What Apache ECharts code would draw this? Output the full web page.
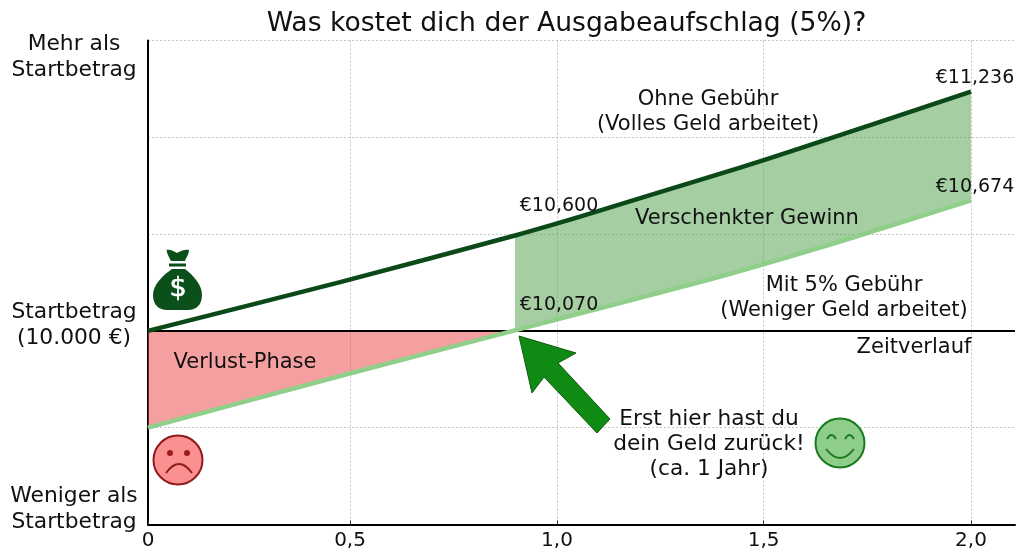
<!DOCTYPE html>
<html>
<head>
<meta charset="utf-8">
<title>Ausgabeaufschlag</title>
<script src="https://cdn.jsdelivr.net/npm/echarts@6/dist/echarts.min.js"></script>
<style>
  html, body { margin: 0; padding: 0; background: #fff; }
  #chart { width: 1024px; height: 559px; }
</style>
</head>
<body>
<div id="chart"></div>
<script>
// values (years, euros)
const ohneGebuehr = [[0, 10000], [0.467, 10252], [0.892, 10493], [1.05, 10590], [1.244, 10717], [1.439, 10843], [1.584, 10943], [2, 11236]]
const mitGebuehr = [[0, 9500], [0.49, 9780], [0.887, 10000], [1.36, 10263], [1.69, 10467], [2, 10674]]
const startLine = [[0, 10000], [2.107, 10000]]
const verlustOben = [[0, 10000], [0.887, 10000]]
const verlustUnten = [[0, 9500], [0.49, 9780], [0.887, 10000]]
const gewinnOben = [[0.892, 10493], [1.05, 10590], [1.244, 10717], [1.439, 10843], [1.584, 10943], [2, 11236]]
const gewinnUnten = [[0.892, 10003], [1.36, 10263], [1.69, 10467], [2, 10674]]
const xTicks = [0, 0.491, 0.994, 1.496, 2]
const xLabels = ['0', '0,5', '1,0', '1,5', '2,0']
const yTicks = [9000, 9500, 10000, 10500, 11000, 11500]
const yLabelValues = [9080, 10031, 11412]
const yLabels = ['Weniger als\nStartbetrag', 'Startbetrag\n(10.000 €)', 'Mehr als\nStartbetrag']

const FONT = 'DejaVu Sans'
const chart = echarts.init(document.getElementById('chart'))

function band(color, opacity, top, bottom) {
  return {
    type: 'custom',
    silent: true,
    z: 1,
    data: [0],
    renderItem(params, api) {
      const pts = top.concat(bottom.slice().reverse()).map(p => api.coord(p))
      return { type: 'polygon', shape: { points: pts }, style: { fill: color, opacity: opacity } }
    }
  }
}

function line(data, color, width, z) {
  return {
    type: 'line',
    data: data,
    symbol: 'none',
    smooth: 0.25,
    silent: true,
    z: z,
    lineStyle: { color: color, width: width, cap: 'butt' }
  }
}

function note(x, y, text, size) {
  return {
    type: 'text',
    x: x,
    y: y,
    z: 20,
    style: {
      text: text,
      fill: '#111',
      font: (size || 21) + 'px "' + FONT + '"',
      align: 'center',
      verticalAlign: 'middle',
      lineHeight: 25
    }
  }
}

function shape(pathData, fill, stroke, width) {
  return {
    type: 'path',
    shape: { pathData: pathData },
    style: { fill: fill, stroke: stroke, lineWidth: width || 0 }
  }
}

function circle(cx, cy, r, fill, stroke, width) {
  return {
    type: 'circle',
    shape: { cx: cx, cy: cy, r: r },
    style: { fill: fill, stroke: stroke, lineWidth: width || 0 }
  }
}

// arrow, money bag and the two faces
function icons() {
  return {
    type: 'group',
    children: [
      shape('M519 336 L576 353 L558 363 L610 419 L597 433 L544 377 L532 393 Z', '#0f8a12', '#0c5c10', 1),
      shape('M166.5 250 C170 249 173 251 177 253 C181 251 185 249 189 250 C189 254 186 258 185 261 L171 261 C169 257 167 254 166.5 250 Z', '#0b4f1a'),
      shape('M169 263.5 L186 263.5 L186 266.5 L169 266.5 Z', '#0b4f1a'),
      shape('M172 269 L185 269 C194 276 202 285 202 295 C202 305 196 310 188 310 L167 310 C159 310 153 305 153 295 C153 285 162 276 172 269 Z', '#0b4f1a'),
      {
        type: 'text', x: 178, y: 289,
        style: { text: '$', fill: '#fff', font: '27px "' + FONT + '"', align: 'center', verticalAlign: 'middle', stroke: '#fff', lineWidth: 0.6 }
      },
      circle(178, 460, 24.5, '#fb9090', '#8f1a1a', 2),
      circle(170, 453, 3, '#a01c1c', null),
      circle(187, 453, 3, '#a01c1c', null),
      shape('M166 473 Q179 455 192 473', 'none', '#8f1a1a', 2),
      circle(840, 443, 24.5, '#8fce8a', '#1b7a1e', 2),
      shape('M827 439 Q831.5 431 836 439', 'none', '#1b7a1e', 2),
      shape('M845 439 Q849.5 431 854 439', 'none', '#1b7a1e', 2),
      shape('M826 449 Q840 467 854 449', 'none', '#1b7a1e', 2)
    ]
  }
}

const option = {
  animation: false,
  backgroundColor: '#fff',
  title: {
    text: 'Was kostet dich der Ausgabeaufschlag (5%)?',
    left: 561.5,
    top: 6,
    textAlign: 'center',
    textStyle: { fontFamily: FONT, fontSize: 26.6, fontWeight: 'normal', color: '#111' }
  },
  grid: { left: 148, top: 40.5, width: 867, height: 484 },
  xAxis: {
    type: 'value',
    min: 0,
    max: 2.107,
    axisLine: { lineStyle: { color: '#000', width: 2 } },
    axisTick: { show: true, inside: true, length: 4, lineStyle: { color: '#333' }, customValues: xTicks },
    axisLabel: {
      color: '#111',
      fontFamily: FONT,
      fontSize: 20,
      margin: 6,
      customValues: xTicks,
      formatter: v => xLabels[xTicks.indexOf(v)]
    },
    splitLine: { show: true, lineStyle: { color: '#c4c4c4', type: [2, 2], width: 1 } }
  },
  yAxis: {
    type: 'value',
    min: 9000,
    max: 11500,
    axisLine: { show: true, onZero: false, lineStyle: { color: '#000', width: 2 } },
    axisTick: { show: false, customValues: yTicks },
    axisLabel: {
      color: '#111',
      fontFamily: FONT,
      fontSize: 21.8,
      lineHeight: 26,
      align: 'center',
      margin: 74,
      customValues: yLabelValues,
      formatter: v => yLabels[yLabelValues.indexOf(v)]
    },
    splitLine: { show: true, lineStyle: { color: '#c4c4c4', type: [2, 2], width: 1 } }
  },
  series: [
    band('#4b9f47', 0.5, gewinnOben, gewinnUnten),
    band('#eb4141', 0.5, verlustOben, verlustUnten),
    line(startLine, '#000', 2, 3),
    line(mitGebuehr, '#8fcf8a', 4.5, 4),
    line(ohneGebuehr, '#0b4a18', 4.5, 5),
    { type: 'custom', silent: true, z: 10, data: [0], renderItem: icons }
  ],
  graphic: [
    note(708, 112, 'Ohne Gebühr\n(Volles Geld arbeitet)'),
    note(975, 78, '€11,236', 19),
    note(975, 187, '€10,674', 19),
    note(559, 206, '€10,600', 19),
    note(559, 305, '€10,070', 19),
    note(747, 219, 'Verschenkter Gewinn'),
    note(844, 298, 'Mit 5% Gebühr\n(Weniger Geld arbeitet)'),
    note(914, 348, 'Zeitverlauf'),
    note(245, 363, 'Verlust-Phase'),
    note(709, 444, 'Erst hier hast du\ndein Geld zurück!\n(ca. 1 Jahr)', 21.7)
  ]
}

chart.setOption(option)
</script>
</body>
</html>
